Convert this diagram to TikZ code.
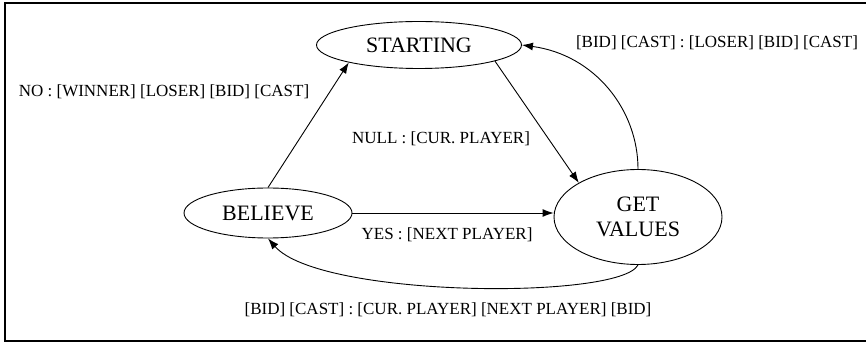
\documentclass[tikz,border=0pt]{standalone}
\usepackage{fontspec}
\setmainfont{Liberation Serif}
\usetikzlibrary{shapes.geometric,arrows.meta}
\tikzset{
  state/.style={draw, ellipse, inner sep=0pt, line width=0.9pt, font=\fontsize{22}{25}\selectfont, align=center},
  lbl/.style={font=\fontsize{17}{20}\selectfont, inner sep=0pt},
  conn/.style={line width=0.9pt, -{Latex[length=11pt,width=8pt]}},
  frame/.style={line width=2pt}
}
\begin{document}
\begin{tikzpicture}[x=1pt,y=-1pt]
\useasboundingbox (0,0) rectangle (866,344);
\draw[frame] (866,3) -- (5,3) -- (5,341) -- (866,341);
\node[state, minimum width=205pt, minimum height=47pt] (st) at (419,45) {STARTING};
\node[state, minimum width=168pt, minimum height=50pt] (bel) at (268,213) {BELIEVE};
\node[state, minimum width=168pt, minimum height=95pt] (gv) at (638,217) {GET\\VALUES};
\draw[conn] (bel.north) -- (st.194);
\draw[conn] (st.-12) -- (gv.150);
\draw[conn] (bel.east) -- (bel.east -| gv.west);
\draw[conn] (gv.north) .. controls (638,110) and (595,55) .. (st.east);
\draw[conn] (gv.south) .. controls (620,300) and (320,298) .. (bel.south);
\node[lbl] (l1) at (164,92) {NO : [WINNER] [LOSER] [BID] [CAST]};
\node[lbl] (l2) at (441,139) {NULL : [CUR. PLAYER]};
\node[lbl] (l3) at (447,235) {YES : [NEXT PLAYER]};
\node[lbl] (l4) at (717,43) {[BID] [CAST] : [LOSER] [BID] [CAST]};
\node[lbl] (l5) at (448,310) {[BID] [CAST] : [CUR. PLAYER] [NEXT PLAYER] [BID]};
\end{tikzpicture}
\end{document}
